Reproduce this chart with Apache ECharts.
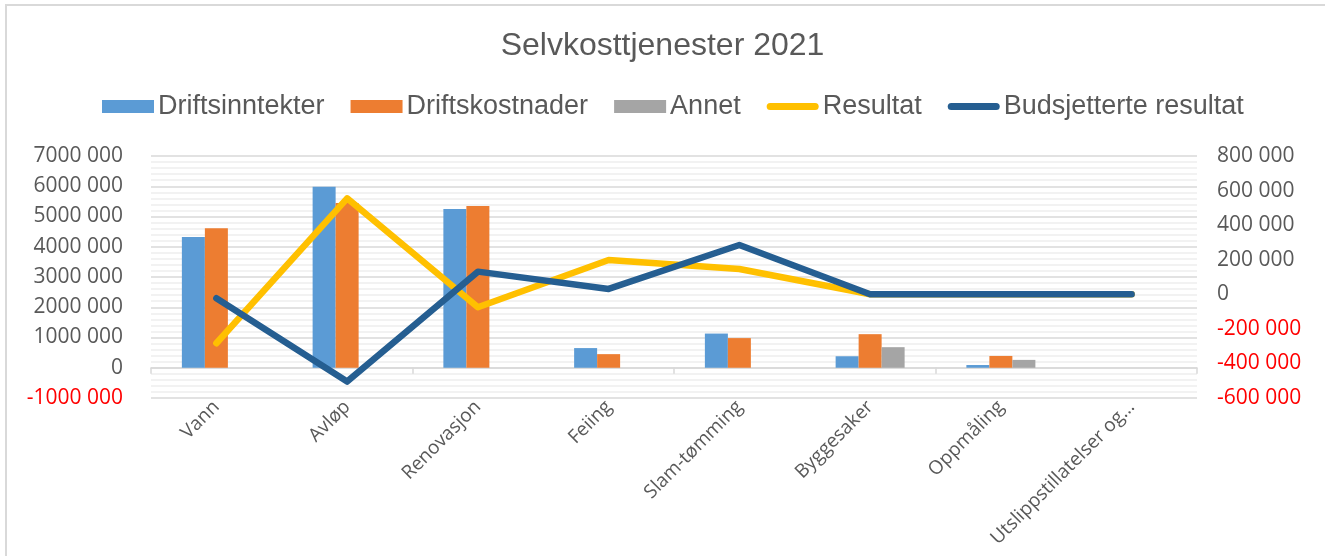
<!DOCTYPE html>
<html>
<head>
<meta charset="utf-8">
<script src="https://cdn.jsdelivr.net/npm/echarts@6/dist/echarts.min.js"></script>
<style>
  html, body { margin: 0; padding: 0; background: #fff; }
  #chart { width: 1325px; height: 556px; }
</style>
</head>
<body>
<div id="chart"></div>
<script>
// data
const categories = ['Vann', 'Avløp', 'Renovasjon', 'Feiing', 'Slam-tømming', 'Byggesaker', 'Oppmåling', 'Utslippstillatelser og…'];
const driftsinntekter = [4320000, 5980000, 5250000, 650000, 1130000, 380000, 90000, null];
const driftskostnader = [4610000, 5450000, 5350000, 450000, 980000, 1110000, 390000, null];
const annet = [null, null, null, null, null, 680000, 260000, null];
const resultat = [-283000, 555000, -75000, 198000, 146000, 0, 0, 0];
const budsjett = [-23000, -505000, 131000, 31000, 285000, 0, 0, 0];

// "7000 000" style labels
function fmt(v) {
  if (v === 0) return '0';
  const a = Math.abs(v);
  return (v < 0 ? '-' : '') + Math.floor(a / 1000) + ' ' + String(a % 1000).padStart(3, '0');
}
const labelColor = v => (v < 0 ? '#ff0000' : '#595959');

const chart = echarts.init(document.getElementById('chart'));
const lineStyle = (c) => ({ color: c, width: 6.5, cap: 'round', join: 'round' });
// thick rounded line for the legend
const lineIcon = 'path://M3.5,0 L48.5,0 A3.5,3.5 0 0 1 48.5,7 L3.5,7 A3.5,3.5 0 0 1 3.5,0 Z';

chart.setOption({
  animation: false,
  graphic: [{
    type: 'rect',
    shape: { x: 6, y: 5, width: 1400, height: 700 },
    style: { fill: 'none', stroke: '#d9d9d9', lineWidth: 2 },
    silent: true
  }],
  title: {
    text: 'Selvkosttjenester 2021',
    left: 'center',
    top: 25,
    textStyle: { fontFamily: 'Liberation Sans', fontSize: 32, fontWeight: 'normal', color: '#595959' }
  },
  legend: {
    top: 88,
    left: 97,
    itemWidth: 52,
    itemHeight: 13,
    itemGap: 26,
    textStyle: { fontFamily: 'Liberation Sans', fontSize: 27, color: '#595959', padding: [0, 0, 0, -1] },
    data: [
      { name: 'Driftsinntekter', icon: 'rect' },
      { name: 'Driftskostnader', icon: 'rect' },
      { name: 'Annet', icon: 'rect' },
      { name: 'Resultat', icon: lineIcon, itemStyle: { color: '#ffc000' } },
      { name: 'Budsjetterte resultat', icon: lineIcon, itemStyle: { color: '#255e91' } }
    ]
  },
  grid: { left: 151, right: 128, top: 156, bottom: 158 },
  xAxis: [{
    type: 'category',
    data: categories,
    position: 'bottom',
    axisLine: { onZero: true, onZeroAxisIndex: 0, lineStyle: { color: '#d9d9d9', width: 1.5 } },
    axisTick: { show: true, length: 6, lineStyle: { color: '#d9d9d9', width: 1.5 } },
    axisLabel: { show: false },
    splitLine: { show: false }
  }, {
    type: 'category',
    data: categories,
    position: 'bottom',
    axisLine: { show: false, onZero: false },
    axisTick: { show: false },
    axisLabel: {
      rotate: 45,
      margin: 6,
      interval: 0,
      fontFamily: 'Open Sans',
      fontSize: 19,
      color: '#595959'
    },
    splitLine: { show: false }
  }],
  yAxis: [{
    type: 'value',
    min: -1000000,
    max: 7000000,
    interval: 1000000,
    axisLine: { show: false },
    axisTick: { show: false },
    axisLabel: { formatter: fmt, color: labelColor, margin: 28, fontFamily: 'Open Sans', fontSize: 21 },
    splitLine: { lineStyle: { color: '#d9d9d9', width: 1.5 } },
    minorTick: { show: false, splitNumber: 5 },
    minorSplitLine: { show: true, lineStyle: { color: '#eeeeee', width: 1.5 } }
  }, {
    type: 'value',
    min: -600000,
    max: 800000,
    interval: 200000,
    axisLine: { show: false },
    axisTick: { show: false },
    axisLabel: { formatter: fmt, color: labelColor, margin: 20, fontFamily: 'Open Sans', fontSize: 21 },
    splitLine: { show: false }
  }],
  series: [
    { name: 'Driftsinntekter', type: 'bar', data: driftsinntekter, barWidth: 23, barGap: '0%', itemStyle: { color: '#5b9bd5' } },
    { name: 'Driftskostnader', type: 'bar', data: driftskostnader, barWidth: 23, barGap: '0%', itemStyle: { color: '#ed7d31' } },
    { name: 'Annet', type: 'bar', data: annet, barWidth: 23, barGap: '0%', itemStyle: { color: '#a5a5a5' } },
    { name: 'Resultat', type: 'line', yAxisIndex: 1, data: resultat, showSymbol: false, symbol: 'none', lineStyle: lineStyle('#ffc000'), itemStyle: { color: '#ffc000' } },
    { name: 'Budsjetterte resultat', type: 'line', yAxisIndex: 1, data: budsjett, showSymbol: false, symbol: 'none', lineStyle: lineStyle('#255e91'), itemStyle: { color: '#255e91' } }
  ]
});
</script>
</body>
</html>
